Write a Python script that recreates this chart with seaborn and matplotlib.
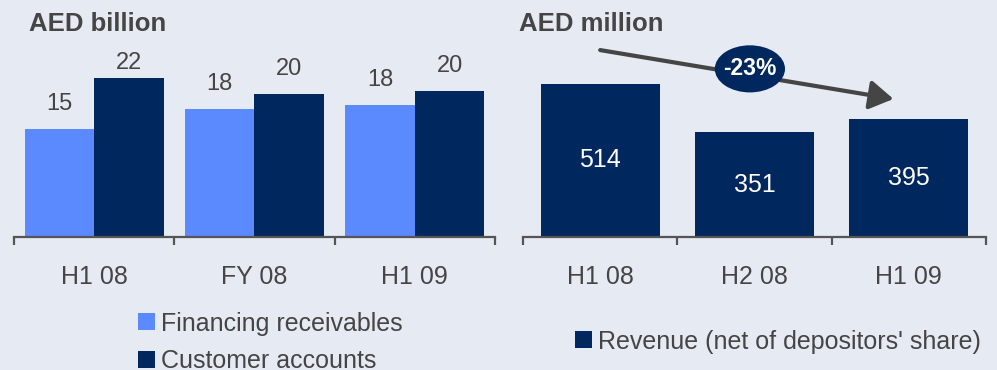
import matplotlib
matplotlib.use("Agg")
import matplotlib.pyplot as plt
from matplotlib.patches import Ellipse, FancyArrowPatch, Patch
import pandas as pd
import seaborn as sns

# Balance sheet (AED billion)
periods_left = ["H1 08", "FY 08", "H1 09"]
financing_receivables = [15.0, 17.8, 18.3]
customer_accounts = [22.0, 19.8, 20.3]
left_series = ["Financing receivables", "Customer accounts"]

# Revenue (AED million)
periods_right = ["H1 08", "H2 08", "H1 09"]
revenue = [514, 351, 395]
right_series = "Revenue (net of depositors' share)"

BG = "#E6EAF3"
LIGHT = "#5B8AFF"
NAVY = "#00285E"
TEXT = "#454545"
AXIS = "#555555"

sns.set_theme(style="white")
plt.rcParams["font.family"] = ["Liberation Sans", "DejaVu Sans"]

fig = plt.figure(figsize=(9.97, 3.70), dpi=100, facecolor=BG)
ax1 = fig.add_axes([0.014, 0.3595, 0.4825, 0.5865])
ax2 = fig.add_axes([0.5246, 0.3595, 0.4644, 0.5865])

df_left = pd.DataFrame({
    "period": periods_left * 2,
    "series": [left_series[0]] * 3 + [left_series[1]] * 3,
    "value": financing_receivables + customer_accounts,
})
df_right = pd.DataFrame({"period": periods_right, "value": revenue})

sns.barplot(data=df_left, x="period", y="value", hue="series", order=periods_left,
            hue_order=left_series, palette=[LIGHT, NAVY], width=0.867,
            saturation=1, legend=False, ax=ax1, linewidth=0)
sns.barplot(data=df_right, x="period", y="value", order=periods_right,
            color=NAVY, width=0.771, saturation=1, ax=ax2, linewidth=0)

for ax, top in ((ax1, 30.1), (ax2, 728)):
    ax.set_facecolor(BG)
    ax.set_xlim(-0.5, 2.5)
    ax.set_ylim(0, top)
    ax.set_xlabel("")
    ax.set_ylabel("")
    ax.set_yticks([])
    for s in ("left", "right", "top"):
        ax.spines[s].set_visible(False)
    ax.spines["bottom"].set_color(AXIS)
    ax.spines["bottom"].set_linewidth(1.6)
    ax.set_xticks([-0.5, 0.5, 1.5, 2.5], minor=True)
    ax.tick_params(axis="x", which="minor", bottom=True, length=6, width=1.6,
                   color=AXIS, direction="out")
    ax.tick_params(axis="x", which="major", length=0, pad=20,
                   labelsize=18, labelcolor=TEXT)

# value labels above the balance-sheet bars (the tallest one sits a little closer)
for container in ax1.containers:
    for bar in container:
        h = bar.get_height()
        offset = 11 if h >= 21 else 18
        ax1.annotate(f"{h:.0f}", (bar.get_x() + bar.get_width() / 2, h),
                     xytext=(0, offset), textcoords="offset points",
                     ha="center", va="center", fontsize=17, color=TEXT)

# value labels inside the revenue bars
for bar in ax2.containers[0]:
    h = bar.get_height()
    ax2.text(bar.get_x() + bar.get_width() / 2, h / 2, f"{h:.0f}",
             ha="center", va="center", fontsize=18, color="white")

# change from first to last period
change = revenue[-1] / revenue[0] - 1
arrow = FancyArrowPatch((0.0, 627), (1.9, 463), arrowstyle="-|>,head_length=0.9,head_width=0.55",
                        mutation_scale=16, color=TEXT, linewidth=3.0,
                        shrinkA=0, shrinkB=0, zorder=4, clip_on=False)
ax2.add_patch(arrow)
ax2.add_patch(Ellipse((0.97, 564), 0.455, 158, facecolor=NAVY, edgecolor="none",
                      zorder=5, clip_on=False))
ax2.text(0.97, 564, f"{change * 100:.0f}%", ha="center", va="center",
         fontsize=16.5, fontweight="bold", color="white", zorder=6)

# unit captions
fig.text(0.029, 0.915, "AED billion", fontsize=18.5, fontweight="bold", color=TEXT,
         ha="left", va="baseline")
fig.text(0.521, 0.915, "AED million", fontsize=18.5, fontweight="bold", color=TEXT,
         ha="left", va="baseline")

# legends
left_handles = [Patch(facecolor=LIGHT, edgecolor="none"),
                Patch(facecolor=NAVY, edgecolor="none")]
fig.legend(left_handles, left_series, loc="upper left",
           bbox_to_anchor=(0.1385, 0.158), frameon=False, fontsize=18,
           labelcolor=TEXT, handlelength=0.68, handleheight=0.68,
           handletextpad=0.25, labelspacing=0.55, borderpad=0, borderaxespad=0)
fig.legend([Patch(facecolor=NAVY, edgecolor="none")], [right_series], loc="upper left",
           bbox_to_anchor=(0.5767, 0.109), frameon=False, fontsize=18,
           labelcolor=TEXT, handlelength=0.68, handleheight=0.68,
           handletextpad=0.25, borderpad=0, borderaxespad=0)

fig.savefig("out.png", dpi=100, facecolor=BG)
